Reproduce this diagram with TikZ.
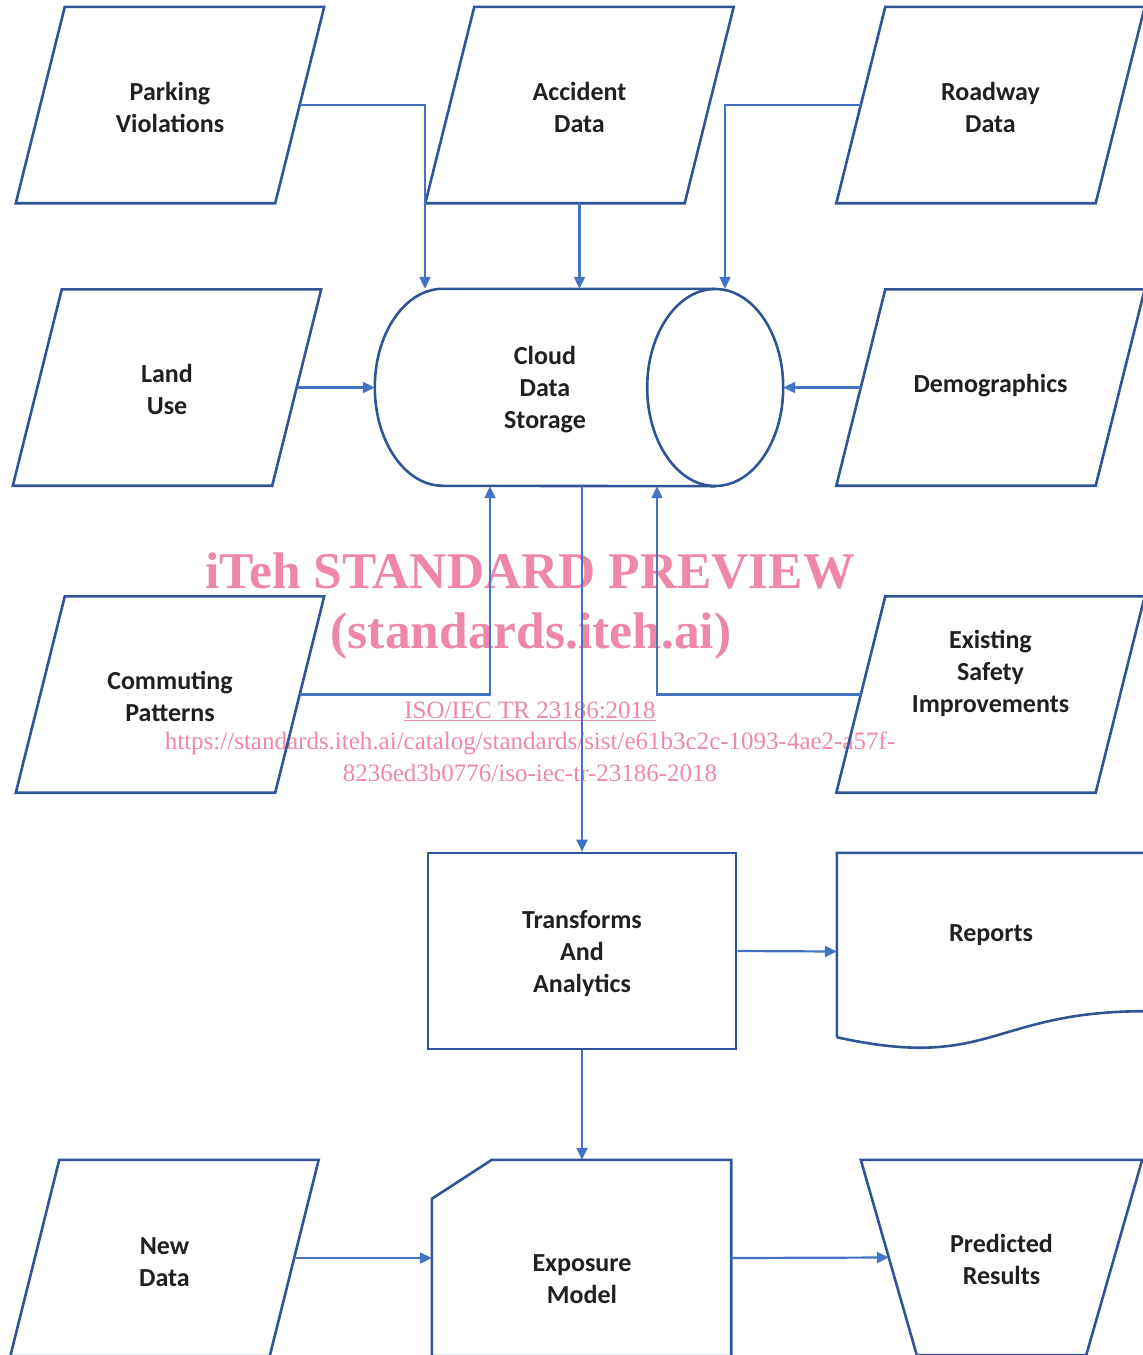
\documentclass[tikz,border=0pt]{standalone}
\usepackage{fontspec}
\setmainfont{Carlito}
\newfontfamily\wmfont{Liberation Serif}
\usetikzlibrary{arrows.meta}
\definecolor{shapeblue}{RGB}{47,85,151}
\definecolor{arrowblue}{RGB}{68,114,196}
\definecolor{wmpink}{RGB}{238,135,168}
\definecolor{txtblack}{RGB}{35,31,32}
\begin{document}
\begin{tikzpicture}[x=1pt,y=-1pt,
  shp/.style={draw=shapeblue, line width=2.6pt, line join=miter},
  conn/.style={draw=arrowblue, line width=2.2pt, -{Triangle[length=12pt,width=11pt]}},
  txt/.style={font=\bfseries\fontsize{26}{32}\selectfont, align=center, text=txtblack},
  io/.style={txt, minimum width=259pt, minimum height=196pt, inner sep=0pt},
  box/.style={txt, inner sep=0pt},
  wmbig/.style={text=wmpink, font=\wmfont\bfseries\fontsize{51.5}{60}\selectfont, anchor=base, inner sep=0pt},
  wmsmall/.style={text=wmpink, font=\wmfont\fontsize{25}{32}\selectfont, anchor=base, inner sep=0pt},
]
\useasboundingbox (0,0) rectangle (1143,1355);

% watermark (under the diagram lines)
\node[wmbig] (wm1) at (530,588) {iTeh STANDARD PREVIEW};
\node[wmbig] (wm2) at (531,648) {(standards.iteh.ai)};
\node[wmsmall] (wm3) at (530,718) {\underline{ISO/IEC TR 23186:2018}};
\node[wmsmall] (wm4) at (530,749) {https://standards.iteh.ai/catalog/standards/sist/e61b3c2c-1093-4ae2-a57f-};
\node[wmsmall] (wm5) at (530,781) {8236ed3b0776/iso-iec-tr-23186-2018};

% data (parallelogram) nodes
\node[io] (pv) at (170,105)   {};
\node[box] (pvtxt) at (170,107) {Parking\\Violations};
\node[io] (ad) at (579.5,105) {};
\node[box] (adtxt) at (579.5,107) {Accident\\Data};
\node[io] (rd) at (990.5,105) {};
\node[box] (rdtxt) at (990.5,107) {Roadway\\Data};
\node[io] (lu) at (167,387.5) {};
\node[box] (lutxt) at (167,389) {Land\\Use};
\node[io] (dm) at (990.5,387.5) {};
\node[box] (dmtxt) at (990.5,386) {Demographics};
\node[io] (cp) at (170,694.5) {};
\node[box] (cptxt) at (170,696) {Commuting\\Patterns};
\node[io] (es) at (990.5,694.5) {};
\node[box] (estxt) at (990.5,673) {Existing\\Safety\\Improvements};
\node[io] (nd) at (164.5,1258) {};
\node[box] (ndtxt) at (164.5,1262) {New\\Data};
\foreach \n in {pv,ad,rd,lu,dm,cp,es,nd}
  \draw[shp] ([xshift=24.5pt]\n.north west) -- ([xshift=24.5pt]\n.north east)
     -- ([xshift=-24.5pt]\n.south east) -- ([xshift=-24.5pt]\n.south west) -- cycle;

% cloud data storage (horizontal cylinder)
\node[box, minimum width=408pt, minimum height=197pt] (cds) at (579,387.5) {};
\node[box] (cdstxt) at (545,390) {Cloud\\Data\\Storage};
\draw[shp] ([xshift=-68pt]cds.north east) -- ([xshift=68pt]cds.north west)
   arc[start angle=90, end angle=270, x radius=68pt, y radius=98.5pt]
   -- ([xshift=-68pt]cds.south east);
\draw[shp] ([xshift=-68pt]cds.east) ellipse [x radius=68pt, y radius=98.5pt];

% transforms and analytics
\node[box, draw=shapeblue, line width=2.6pt, minimum width=308pt, minimum height=196pt] (ta) at (582,951) {};
\node[box] (tatxt) at (582,953) {Transforms\\And\\Analytics};

% reports (document shape)
\node[box, minimum width=308pt, minimum height=197pt] (rep) at (991,951.5) {};
\node[box] (reptxt) at (991,935) {Reports};
\draw[shp] ([yshift=13pt]rep.south west) -- (rep.north west) -- (rep.north east)
   -- ([yshift=39pt]rep.south east)
   .. controls ([yshift=39pt]rep.south) and ([yshift=-21.2pt]rep.south) .. ([yshift=13pt]rep.south west);

% exposure model (card shape)
\node[box, minimum width=299pt, minimum height=196pt] (ex) at (581.5,1258) {};
\node[box] (extxt) at (582,1279) {Exposure\\Model};
\draw[shp] ([yshift=-39pt]ex.north west) -- ([xshift=60pt]ex.north west) -- (ex.north east)
   -- (ex.south east) -- (ex.south west) -- cycle;

% predicted results (manual operation trapezoid)
\node[box, minimum width=281pt, minimum height=195pt] (pr) at (1001.5,1257.5) {};
\node[box] (prtxt) at (1001.5,1259) {Predicted\\Results};
\draw[shp] (pr.north west) -- (pr.north east) -- ([xshift=-56pt]pr.south east)
   -- ([xshift=56pt]pr.south west) -- cycle;

% connectors
\draw[conn] (pv.east) -| ([xshift=-154pt]cds.north);
\draw[conn] (ad.south) -- (ad.south |- cds.north);
\draw[conn] (rd.west) -| ([xshift=146pt]cds.north);
\draw[conn] (lu.east) -- (cds.west);
\draw[conn] (dm.west) -- (cds.east);
\draw[conn] (cp.east) -| ([xshift=-89pt]cds.south);
\draw[conn] (es.west) -| ([xshift=78pt]cds.south);
\draw[conn] (cds.south -| ta.north) -- (ta.north);
\draw[conn] (ta.east) -- (rep.west);
\draw[conn] (ta.south) -- (ta.south |- ex.north);
\draw[conn] (nd.east) -- (ex.west);
\draw[conn] (ex.east) -- ([xshift=28pt]pr.west);
\end{tikzpicture}
\end{document}
